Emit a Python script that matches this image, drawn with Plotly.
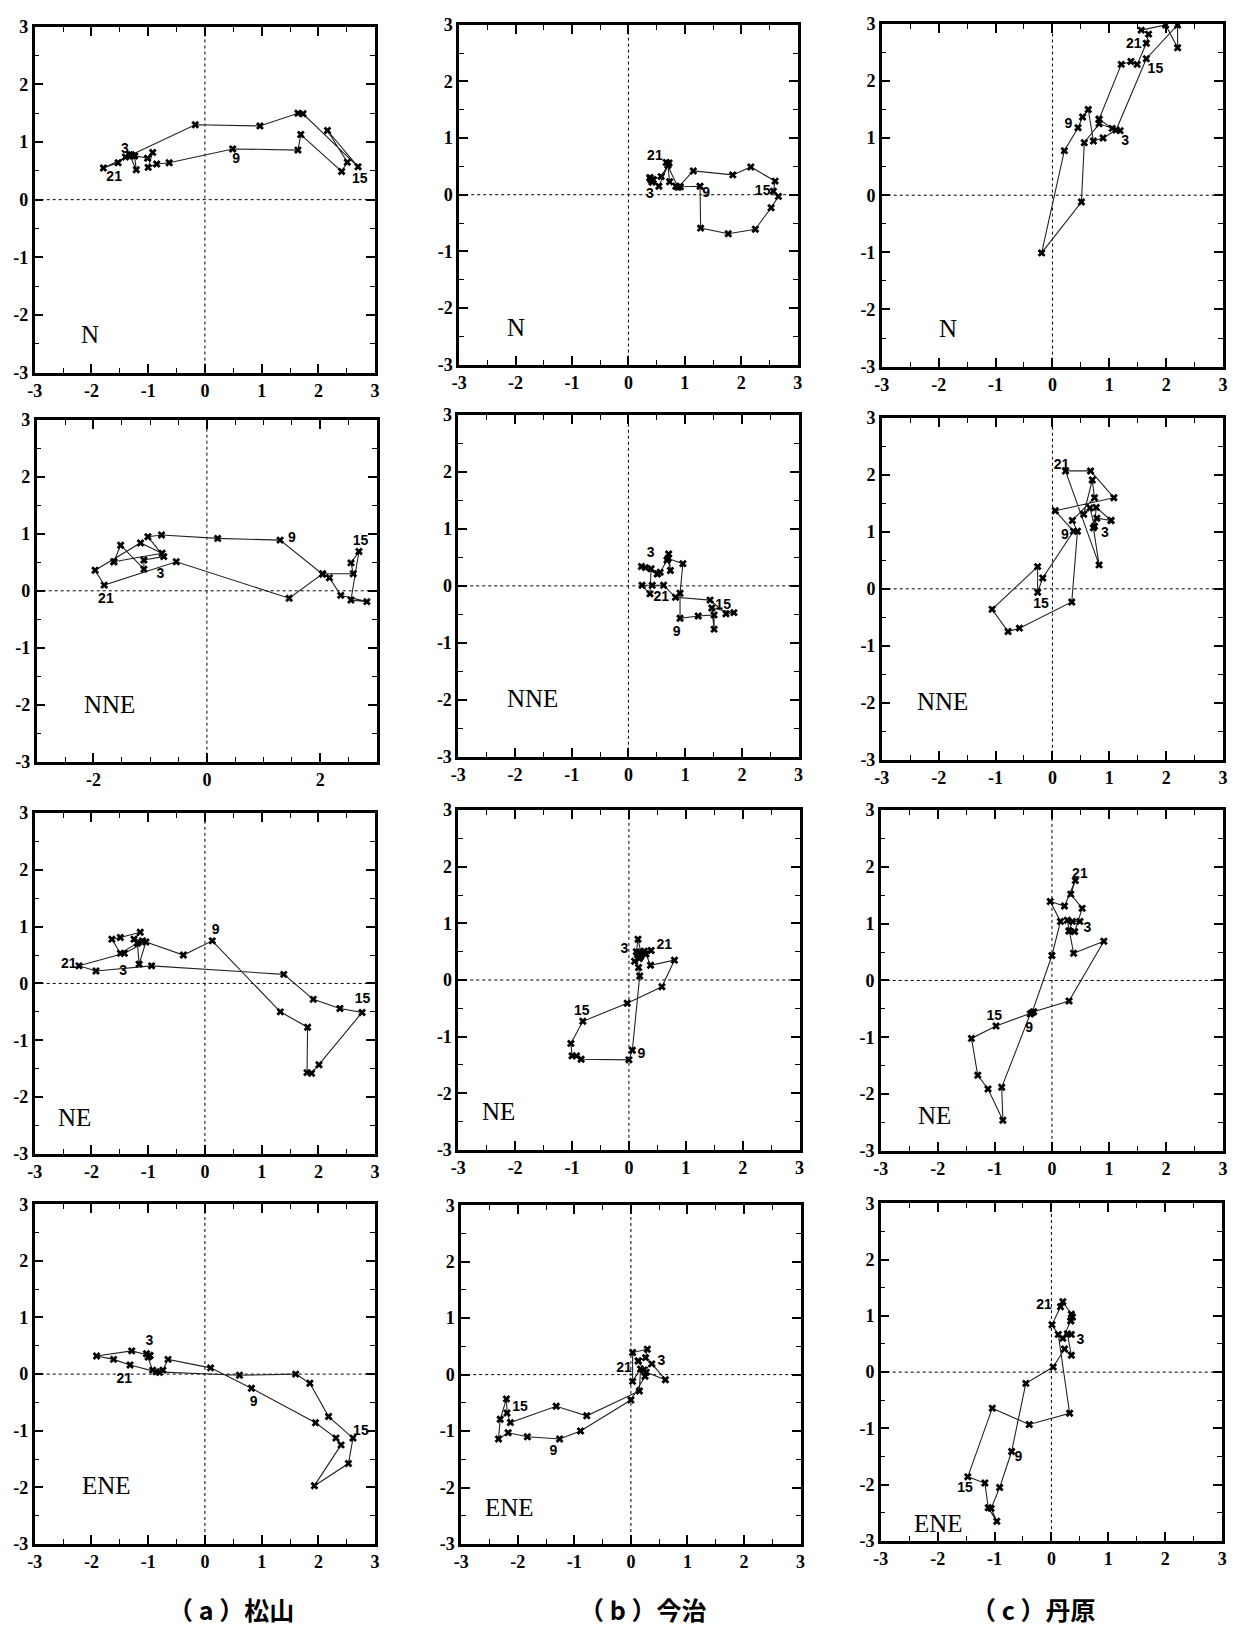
import plotly.graph_objects as go

W, H = 1239, 1635

DIRECTIONS = ["N", "NNE", "NE", "ENE"]
STATIONS = ["（ a ）松山", "（ b ）今治", "（ c ）丹原"]
HOUR_TEXT = ["3", "9", "15", "21"]
TICK_VALS = [-3, -2, -1, 0, 1, 2, 3]
TICK_TEXT = ["-3", "-2", "-1", "0", "1", "2", "3"]
TICK_VALS_WIDE = [-2, 0, 2]
TICK_TEXT_WIDE = ["-2", "0", "2"]

# ---- hourly hodograph points (hour 1 .. 24), u = x, v = y ----
N_matsuyama_u = [-1.24, -1.21, -1.33, -1.01, -0.92, -1.00, -0.85, -0.63, 0.49, 1.64, 1.69, 2.41, 2.51, 2.16, 2.70, 1.73, 1.64, 0.97, -0.17, -1.30, -1.79, -1.53, -1.40, -1.28]
N_matsuyama_v = [0.76, 0.52, 0.78, 0.72, 0.82, 0.56, 0.62, 0.64, 0.88, 0.86, 1.13, 0.49, 0.65, 1.20, 0.57, 1.49, 1.50, 1.28, 1.30, 0.78, 0.55, 0.64, 0.74, 0.76]
N_imabari_u = [0.38, 0.42, 0.44, 0.58, 0.70, 0.73, 0.84, 0.92, 1.27, 1.28, 1.77, 2.25, 2.53, 2.66, 2.57, 2.60, 2.17, 1.85, 1.15, 0.88, 0.67, 0.72, 0.54, 0.40]
N_imabari_v = [0.30, 0.22, 0.27, 0.32, 0.52, 0.23, 0.15, 0.14, 0.15, -0.59, -0.69, -0.61, -0.23, -0.03, 0.06, 0.24, 0.49, 0.35, 0.42, 0.13, 0.57, 0.56, 0.15, 0.26]
N_tanbara_u = [0.82, 1.05, 1.19, 0.82, 0.56, 0.51, -0.19, 0.21, 0.45, 0.53, 0.63, 0.72, 0.89, 1.12, 1.65, 2.20, 2.20, 1.99, 1.56, 1.69, 1.65, 1.49, 1.38, 1.21]
N_tanbara_v = [1.33, 1.17, 1.13, 1.25, 0.92, -0.12, -1.01, 0.78, 1.18, 1.37, 1.50, 0.95, 1.00, 1.14, 2.39, 2.98, 2.58, 2.98, 2.89, 2.82, 2.66, 2.29, 2.34, 2.29]

NNE_matsuyama_u = [-1.64, -1.52, -1.11, -1.11, -0.76, -1.04, -0.80, 0.19, 1.29, 2.04, 2.16, 2.36, 2.82, 2.54, 2.68, 2.54, 2.58, 2.04, 1.45, -0.54, -1.81, -1.97, -1.17, -0.79]
NNE_matsuyama_v = [0.51, 0.80, 0.38, 0.54, 0.60, 0.95, 0.98, 0.92, 0.89, 0.29, 0.23, -0.08, -0.19, -0.16, 0.69, 0.49, 0.30, 0.30, -0.13, 0.51, 0.10, 0.36, 0.84, 0.66]
NNE_imabari_u = [0.51, 0.56, 0.68, 0.71, 0.74, 0.70, 0.96, 0.91, 0.91, 1.23, 1.51, 1.51, 1.47, 1.86, 1.72, 1.44, 0.83, 0.62, 0.42, 0.24, 0.38, 0.40, 0.30, 0.23]
NNE_imabari_v = [0.21, 0.24, 0.45, 0.56, 0.27, 0.48, 0.39, -0.13, -0.57, -0.53, -0.51, -0.76, -0.39, -0.47, -0.49, -0.25, -0.20, 0.01, 0.01, 0.01, -0.14, 0.30, 0.32, 0.34]
NNE_tanbara_u = [1.03, 0.77, 0.74, 0.66, 0.55, 0.70, 0.74, 0.35, 0.44, 0.34, -0.58, -0.78, -1.06, -0.26, -0.26, -0.17, 0.37, 0.05, 1.08, 0.67, 0.23, 0.82, 0.72, 0.78]
NNE_tanbara_v = [1.20, 1.43, 1.10, 1.42, 1.31, 1.91, 1.60, 1.20, 1.01, -0.23, -0.69, -0.75, -0.36, 0.39, -0.06, 0.19, 1.01, 1.37, 1.60, 2.07, 2.07, 0.42, 1.07, 1.24]

NE_matsuyama_u = [-1.19, -1.49, -1.64, -1.49, -1.14, -1.25, -1.10, -0.38, 0.13, 1.33, 1.81, 1.80, 1.88, 2.01, 2.77, 2.38, 1.91, 1.39, -0.94, -1.92, -2.22, -1.42, -1.04, -1.16]
NE_matsuyama_v = [0.71, 0.53, 0.78, 0.81, 0.90, 0.78, 0.75, 0.50, 0.75, -0.50, -0.77, -1.57, -1.58, -1.43, -0.51, -0.44, -0.28, 0.16, 0.31, 0.22, 0.31, 0.53, 0.73, 0.34]
NE_imabari_u = [0.20, 0.27, 0.13, 0.16, 0.22, 0.10, 0.17, 0.19, 0.06, 0.00, -0.84, -0.92, -1.00, -1.02, -0.81, -0.03, 0.58, 0.80, 0.38, 0.30, 0.39, 0.25, 0.18, 0.15]
NE_imabari_v = [0.41, 0.51, 0.50, 0.72, 0.45, 0.33, 0.22, 0.07, -1.24, -1.41, -1.40, -1.34, -1.34, -1.12, -0.73, -0.41, -0.12, 0.35, 0.26, 0.46, 0.52, 0.48, 0.38, 0.45]
NE_tanbara_u = [0.30, 0.36, 0.49, 0.27, 0.38, 0.91, 0.30, -0.32, -0.38, -0.88, -0.86, -1.12, -1.30, -1.41, -0.98, -0.35, 0.00, 0.15, -0.03, 0.22, 0.41, 0.33, 0.53, 0.40]
NE_tanbara_v = [0.87, 1.04, 1.04, 1.06, 0.48, 0.69, -0.36, -0.55, -0.59, -1.88, -2.46, -1.91, -1.67, -1.02, -0.80, -0.57, 0.44, 1.04, 1.39, 1.31, 1.76, 1.52, 1.27, 0.86]

ENE_matsuyama_u = [-0.97, -1.00, -1.03, -0.92, -0.80, -0.74, -0.65, 0.10, 0.82, 1.95, 2.31, 2.40, 1.93, 2.53, 2.61, 2.18, 1.85, 1.60, 0.61, -0.86, -1.32, -1.61, -1.91, -1.29]
ENE_matsuyama_v = [0.33, 0.30, 0.36, 0.07, 0.03, 0.07, 0.26, 0.11, -0.25, -0.86, -1.13, -1.25, -1.97, -1.58, -1.13, -0.75, -0.16, 0.00, -0.02, 0.04, 0.16, 0.26, 0.32, 0.41]
ENE_imabari_u = [0.13, 0.23, 0.37, 0.61, 0.27, 0.25, 0.00, -0.89, -1.26, -1.83, -2.17, -2.34, -2.31, -2.20, -2.19, -2.13, -1.32, -0.78, 0.15, 0.17, 0.03, 0.03, 0.29, 0.26]
ENE_imabari_v = [0.24, 0.08, 0.19, -0.09, 0.04, -0.03, -0.45, -1.00, -1.14, -1.10, -1.03, -1.14, -0.79, -0.43, -0.68, -0.85, -0.56, -0.73, -0.29, 0.10, -0.12, 0.39, 0.45, 0.30]
ENE_tanbara_u = [0.34, 0.20, 0.35, 0.28, 0.35, 0.23, 0.03, -0.45, -0.70, -0.91, -1.06, -0.96, -1.11, -1.17, -1.47, -1.04, -0.39, 0.32, 0.12, 0.01, 0.16, 0.20, 0.35, 0.37]
ENE_tanbara_v = [0.91, 0.60, 0.67, 0.68, 0.30, 0.41, 0.09, -0.20, -1.41, -2.05, -2.42, -2.65, -2.41, -1.97, -1.86, -0.64, -0.93, -0.73, 0.67, 0.84, 1.16, 1.25, 1.03, 0.98]

# ---- hour-label anchor positions (for hours 3, 9, 15, 21) ----
N_matsuyama_lx = [-1.41, 0.55, 2.73, -1.60]; N_matsuyama_ly = [0.87, 0.69, 0.35, 0.39]
N_imabari_lx = [0.38, 1.38, 2.38, 0.47];     N_imabari_ly = [0.00, 0.03, 0.06, 0.67]
N_tanbara_lx = [1.28, 0.28, 1.81, 1.43];     N_tanbara_ly = [0.94, 1.23, 2.20, 2.64]
NNE_matsuyama_lx = [-0.82, 1.50, 2.71, -1.78]; NNE_matsuyama_ly = [0.28, 0.92, 0.86, -0.15]
NNE_imabari_lx = [0.39, 0.85, 1.67, 0.58];     NNE_imabari_ly = [0.56, -0.82, -0.35, -0.20]
NNE_tanbara_lx = [0.92, 0.22, -0.20, 0.16];    NNE_tanbara_ly = [0.97, 0.93, -0.27, 2.16]
NE_matsuyama_lx = [-1.44, 0.19, 2.78, -2.40];  NE_matsuyama_ly = [0.21, 0.93, -0.28, 0.34]
NE_imabari_lx = [-0.08, 0.22, -0.83, 0.62];    NE_imabari_ly = [0.54, -1.32, -0.56, 0.60]
NE_tanbara_lx = [0.62, -0.40, -1.01, 0.49];    NE_tanbara_ly = [0.92, -0.85, -0.64, 1.87]
ENE_matsuyama_lx = [-0.98, 0.86, 2.75, -1.42]; ENE_matsuyama_ly = [0.57, -0.50, -1.01, -0.10]
ENE_imabari_lx = [0.54, -1.37, -1.96, -0.12];  ENE_imabari_ly = [0.24, -1.37, -0.58, 0.11]
ENE_tanbara_lx = [0.51, -0.58, -1.52, -0.13];  ENE_tanbara_ly = [0.56, -1.51, -2.06, 1.18]

series = [
    (N_matsuyama_u, N_matsuyama_v, N_matsuyama_lx, N_matsuyama_ly),
    (N_imabari_u, N_imabari_v, N_imabari_lx, N_imabari_ly),
    (N_tanbara_u, N_tanbara_v, N_tanbara_lx, N_tanbara_ly),
    (NNE_matsuyama_u, NNE_matsuyama_v, NNE_matsuyama_lx, NNE_matsuyama_ly),
    (NNE_imabari_u, NNE_imabari_v, NNE_imabari_lx, NNE_imabari_ly),
    (NNE_tanbara_u, NNE_tanbara_v, NNE_tanbara_lx, NNE_tanbara_ly),
    (NE_matsuyama_u, NE_matsuyama_v, NE_matsuyama_lx, NE_matsuyama_ly),
    (NE_imabari_u, NE_imabari_v, NE_imabari_lx, NE_imabari_ly),
    (NE_tanbara_u, NE_tanbara_v, NE_tanbara_lx, NE_tanbara_ly),
    (ENE_matsuyama_u, ENE_matsuyama_v, ENE_matsuyama_lx, ENE_matsuyama_ly),
    (ENE_imabari_u, ENE_imabari_v, ENE_imabari_lx, ENE_imabari_ly),
    (ENE_tanbara_u, ENE_tanbara_v, ENE_tanbara_lx, ENE_tanbara_ly),
]

# ---- layout: panel boxes in pixels (x0, x1, y0, y1) ----
boxes = [
    (27, 371, 17, 367), (456, 798, 15, 359), (883, 1228, 14, 361),
    (29, 373, 415, 761), (455, 799, 410, 756), (883, 1228, 413, 759),
    (27, 371, 813, 1158), (455, 800, 810, 1154), (882, 1228, 810, 1155),
    (27, 371, 1209, 1553), (458, 801, 1210, 1553), (882, 1227, 1208, 1550),
]
name_pos = [
    (-2.02, -2.34), (-1.99, -2.35), (-1.83, -2.34),
    (-1.72, -1.99), (-1.69, -1.98), (-1.93, -1.97),
    (-2.30, -2.36), (-2.29, -2.33), (-2.06, -2.37),
    (-1.74, -1.97), (-2.15, -2.35), (-1.99, -2.69),
]
station_x = [225, 641, 1036]
station_y = 1619

fig = go.Figure()
layout = {}
shapes = []
annotations = []
tickfont = dict(family="Liberation Serif", size=18, color="black", weight="bold")

for i, ((u, v, lx, ly), box, npos) in enumerate(zip(series, boxes, name_pos), start=1):
    x0, x1, y0, y1 = box
    xa, ya = f"x{i}", f"y{i}"
    # closed daily loop
    fig.add_trace(go.Scatter(
        x=u + u[:1], y=v + v[:1], mode="lines+markers", xaxis=xa, yaxis=ya,
        line=dict(color="#222222", width=1.1),
        marker=dict(symbol="x", size=7, color="black"),
        showlegend=False, hoverinfo="x+y"))
    fig.add_trace(go.Scatter(
        x=lx, y=ly, mode="text", text=HOUR_TEXT, xaxis=xa, yaxis=ya,
        textfont=dict(family="Liberation Sans", size=14, color="black", weight="bold"),
        showlegend=False, hoverinfo="skip"))
    common = dict(range=[-3, 3], ticks="inside", ticklen=9, tickwidth=1.8,
                  tickcolor="black", showline=True, linewidth=2.5, linecolor="black",
                  mirror="ticks", showgrid=False, zeroline=False, tickfont=tickfont,
                  minor=dict(ticks="inside", ticklen=5, dtick=0.5, tick0=0, tickwidth=1.4,
                             tickcolor="black", showgrid=False),
                  fixedrange=True)
    if i == 4:
        xt = dict(tickmode="array", tickvals=TICK_VALS_WIDE, ticktext=TICK_TEXT_WIDE)
    else:
        xt = dict(tickmode="array", tickvals=TICK_VALS, ticktext=TICK_TEXT)
    yt = dict(tickmode="array", tickvals=TICK_VALS, ticktext=TICK_TEXT)
    layout[f"xaxis{i}"] = dict(common, **xt, anchor=ya, domain=[x0 / W, x1 / W])
    layout[f"yaxis{i}"] = dict(common, **yt, anchor=xa, domain=[1 - y1 / H, 1 - y0 / H])
    for (sx0, sx1, sy0, sy1) in [(0, 0, -3, 3), (-3, 3, 0, 0)]:
        shapes.append(dict(type="line", xref=xa, yref=ya, x0=sx0, x1=sx1, y0=sy0, y1=sy1,
                           line=dict(color="black", width=1, dash="dot"), layer="below"))
    annotations.append(dict(text=DIRECTIONS[(i - 1) // 3], x=npos[0], y=npos[1],
                            xref=xa, yref=ya, showarrow=False,
                            font=dict(family="Liberation Serif", size=25, color="black")))

for sx, st in zip(station_x, STATIONS):
    annotations.append(dict(text=st, x=sx / W, y=1 - station_y / H, xref="paper", yref="paper",
                            showarrow=False, xanchor="center", yanchor="middle",
                            font=dict(family="Noto Sans CJK JP", size=25, color="black",
                                      weight="bold")))

fig.update_layout(**layout)
fig.update_layout(width=W, height=H, margin=dict(l=0, r=0, t=0, b=0),
                  paper_bgcolor="white", plot_bgcolor="white",
                  font=dict(family="Liberation Serif", color="black"),
                  shapes=shapes, annotations=annotations, showlegend=False)

fig.write_html("out.html")
